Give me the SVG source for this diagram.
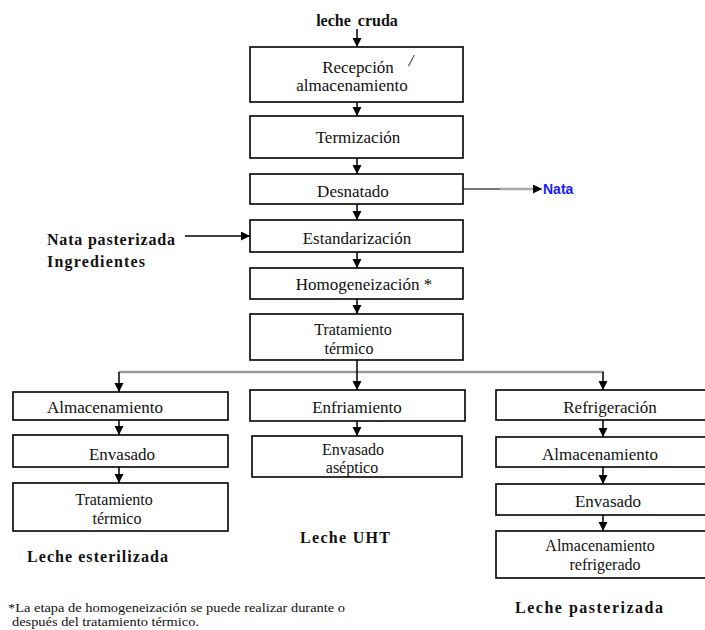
<svg xmlns="http://www.w3.org/2000/svg" width="705" height="630" viewBox="0 0 705 630" font-family="'Liberation Serif', 'Times New Roman', serif">
<defs>
<marker id="ah" markerUnits="userSpaceOnUse" markerWidth="10" markerHeight="10" refX="9" refY="4.5" orient="auto">
<path d="M0,0 L9,4.5 L0,9 z" fill="#000"/>
</marker>
<style>
text{font-family:"Liberation Serif","Times New Roman",serif}
.box{fill:#fff;stroke:#000;stroke-width:1.6}
.lbl{font-size:17px;fill:#111;text-anchor:middle}
.two{font-size:16px}
.hd{font-size:16px;font-weight:bold;fill:#111}
.c{stroke:#000;stroke-width:1.5;fill:none}
.g{stroke:#999;stroke-width:2.5;fill:none}
.fn{font-size:13px;fill:#111}
</style>
</defs>
<rect width="705" height="630" fill="#fff"/>

<g id="connectors">
<line class="c" x1="357" y1="29" x2="357" y2="47" marker-end="url(#ah)"/>
<line class="c" x1="357" y1="102" x2="357" y2="116" marker-end="url(#ah)"/>
<line class="c" x1="357" y1="158" x2="357" y2="174" marker-end="url(#ah)"/>
<line class="c" x1="357" y1="204" x2="357" y2="220" marker-end="url(#ah)"/>
<line class="c" x1="357" y1="252" x2="357" y2="268" marker-end="url(#ah)"/>
<line class="c" x1="357" y1="299" x2="357" y2="314" marker-end="url(#ah)"/>
<line class="g" x1="119" y1="372" x2="604" y2="372"/>
<line class="c" x1="357" y1="360" x2="357" y2="390" marker-end="url(#ah)"/>
<line class="c" x1="119" y1="372" x2="119" y2="392" marker-end="url(#ah)"/>
<line class="c" x1="603" y1="372" x2="603" y2="390" marker-end="url(#ah)"/>
<line class="c" x1="119" y1="420" x2="119" y2="435" marker-end="url(#ah)"/>
<line class="c" x1="119" y1="467" x2="119" y2="483" marker-end="url(#ah)"/>
<line class="c" x1="357" y1="421" x2="357" y2="436" marker-end="url(#ah)"/>
<line class="c" x1="603" y1="420" x2="603" y2="437" marker-end="url(#ah)"/>
<line class="c" x1="603" y1="467" x2="603" y2="484" marker-end="url(#ah)"/>
<line class="c" x1="603" y1="515" x2="603" y2="531" marker-end="url(#ah)"/>
<line x1="463" y1="189" x2="500" y2="189" stroke="#777" stroke-width="2"/>
<line x1="500" y1="189" x2="542" y2="189" stroke="#aaa" stroke-width="2.5" marker-end="url(#ah)"/>
<line class="c" x1="185" y1="236" x2="250" y2="236" marker-end="url(#ah)"/>
</g>

<g id="leche-cruda"><text class="hd" x="357" y="26" text-anchor="middle" font-size="17" word-spacing="3">leche cruda</text></g>

<g id="recepcion">
<rect class="box" x="250" y="47" width="213" height="55"/>
<text class="lbl" x="358" y="73">Recepción</text>
<text class="lbl" x="411" y="66" font-size="13" font-style="italic">/</text>
<text class="lbl" x="352" y="91">almacenamiento</text>
</g>
<g id="termizacion">
<rect class="box" x="250" y="116" width="213" height="42"/>
<text class="lbl" x="358" y="143">Termización</text>
</g>
<g id="desnatado">
<rect class="box" x="250" y="174" width="213" height="30"/>
<text class="lbl" x="353" y="197">Desnatado</text>
</g>
<g id="nata">
<text x="543" y="194" style="font-family:'Liberation Sans',Arial,sans-serif" font-size="14" font-weight="bold" fill="#1a1aff">Nata</text>
</g>
<g id="estandarizacion">
<rect class="box" x="250" y="220" width="213" height="32"/>
<text class="lbl" x="357" y="244">Estandarización</text>
</g>
<g id="ingredientes">
<text class="hd" x="47" y="245" textLength="128">Nata pasterizada</text>
<text class="hd" x="47" y="267" textLength="98">Ingredientes</text>
</g>
<g id="homogeneizacion">
<rect class="box" x="250" y="268" width="213" height="31"/>
<text class="lbl" x="364" y="290">Homogeneización *</text>
</g>
<g id="tratamiento">
<rect class="box" x="250" y="314" width="213" height="46"/>
<text class="lbl two" x="353" y="335">Tratamiento</text>
<text class="lbl two" x="349" y="354">térmico</text>
</g>

<g id="almacenamiento-l">
<rect class="box" x="13" y="392" width="215" height="28"/>
<text class="lbl" x="105" y="413">Almacenamiento</text>
</g>
<g id="envasado-l">
<rect class="box" x="13" y="435" width="215" height="32"/>
<text class="lbl" x="122" y="460">Envasado</text>
</g>
<g id="tratamiento-l">
<rect class="box" x="13" y="483" width="215" height="48"/>
<text class="lbl two" x="114" y="505">Tratamiento</text>
<text class="lbl two" x="117" y="524">térmico</text>
</g>
<g id="leche-esterilizada"><text class="hd" x="27" y="562" textLength="141">Leche  esterilizada</text></g>

<g id="enfriamiento">
<rect class="box" x="250" y="390" width="215" height="31"/>
<text class="lbl" x="357" y="413">Enfriamiento</text>
</g>
<g id="envasado-aseptico">
<rect class="box" x="252" y="436" width="210" height="41"/>
<text class="lbl two" x="353" y="455">Envasado</text>
<text class="lbl two" x="352" y="473">aséptico</text>
</g>
<g id="leche-uht"><text class="hd" x="300" y="543" textLength="90">Leche UHT</text></g>

<g id="refrigeracion">
<rect class="box" x="496" y="390" width="212" height="30"/>
<text class="lbl" x="610" y="413">Refrigeración</text>
</g>
<g id="almacenamiento-r">
<rect class="box" x="496" y="437" width="212" height="30"/>
<text class="lbl" x="600" y="460">Almacenamiento</text>
</g>
<g id="envasado-r">
<rect class="box" x="496" y="484" width="212" height="31"/>
<text class="lbl" x="608" y="507">Envasado</text>
</g>
<g id="almacenamiento-refrigerado">
<rect class="box" x="496" y="531" width="212" height="47"/>
<text class="lbl two" x="600" y="551">Almacenamiento</text>
<text class="lbl two" x="605" y="570">refrigerado</text>
</g>
<g id="leche-pasterizada"><text class="hd" x="515" y="613" textLength="148">Leche  pasterizada</text></g>

<g id="footnote">
<text class="fn" x="8" y="612" textLength="337" lengthAdjust="spacingAndGlyphs">*La etapa de homogeneización se puede realizar durante o</text>
<text class="fn" x="12" y="626" textLength="187" lengthAdjust="spacingAndGlyphs">después del tratamiento térmico.</text>
</g>
</svg>
